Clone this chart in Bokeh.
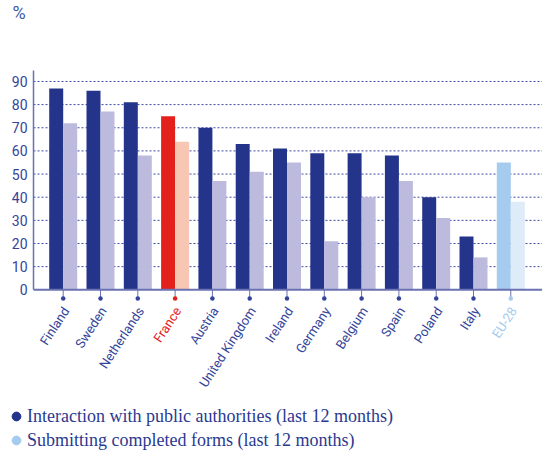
from bokeh.plotting import figure
from bokeh.models import (ColumnDataSource, FixedTicker, LabelSet, Label,
                          Legend, LegendItem, Range1d, LinearAxis)
from bokeh.core.properties import value
from bokeh.embed import file_html
from bokeh.resources import INLINE

# ---- data ----
countries = ["Finland", "Sweden", "Netherlands", "France", "Austria", "United Kingdom",
             "Ireland", "Germany", "Belgium", "Spain", "Poland", "Italy", "EU-28"]
interaction = [87, 86, 81, 75, 70, 63, 61, 59, 59, 58, 40, 23, 55]
forms = [72, 77, 58, 64, 47, 51, 55, 21, 40, 47, 31, 14, 38]
y_ticks = [0, 10, 20, 30, 40, 50, 60, 70, 80, 90]
series_names = ["Interaction with public authorities (last 12 months)",
                "Submitting completed forms (last 12 months)"]

NAVY = "#24348a"
LAV = "#bcbbde"
RED = "#e3201b"
SALMON = "#f8c7b3"
SKY = "#a5cbee"
PALE = "#deebf9"
TXT = "#34449a"
AXIS = "#6a72b2"
GRID = "#3c4ba0"

dark_colors = [RED if c == "France" else SKY if c == "EU-28" else NAVY for c in countries]
light_colors = [SALMON if c == "France" else PALE if c == "EU-28" else LAV for c in countries]
label_colors = [RED if c == "France" else SKY if c == "EU-28" else TXT for c in countries]

idx = list(range(len(countries)))
bw = 0.375
X0, X1 = -1.681, 12.850       # frame range (whole canvas)
Y0, Y1 = -70.71, 124.97
AX_X = -0.796                 # where the value axis stands
AX_TOP = 94.7
TICK_END = -3.8
LABEL_Y = -8.0

src = ColumnDataSource(dict(
    x=idx,
    xd=[i - bw / 2 for i in idx],
    xl=[i + bw / 2 for i in idx],
    inter=interaction, forms=forms,
    dc=dark_colors, lc=light_colors, tc=label_colors,
    name=countries,
))
grid_src = ColumnDataSource(dict(y=y_ticks[1:]))

W, H = 542, 453
p = figure(width=W, height=H, output_backend="svg", toolbar_location=None,
           x_range=Range1d(X0, X1), y_range=Range1d(Y0, Y1),
           min_border=0, x_axis_location=None, y_axis_location=None,
           background_fill_color="white", border_fill_color="white")
p.outline_line_color = None
p.grid.visible = False

# value axis, standing inside the frame
ya = LinearAxis(fixed_location=AX_X, ticker=FixedTicker(ticks=y_ticks), bounds=(0, AX_TOP))
ya.axis_line_color = AXIS
ya.axis_line_width = 1.5
ya.major_tick_line_color = None
ya.minor_tick_line_color = None
ya.major_tick_out = 0
ya.major_tick_in = 0
ya.major_label_text_color = TXT
ya.major_label_text_font = "Roboto"
ya.major_label_text_font_size = "14px"
ya.major_label_standoff = 6
p.add_layout(ya, "left")

# dotted grid from the axis to the right edge
p.segment(x0=AX_X, y0="y", x1=X1, y1="y", line_color=GRID, line_dash="2 2",
          line_width=1, source=grid_src)

p.vbar(x="xd", top="inter", width=bw, fill_color="dc", line_color=None, source=src)
p.vbar(x="xl", top="forms", width=bw, fill_color="lc", line_color=None, source=src)

# category axis line
p.segment(x0=AX_X, y0=0, x1=X1, y1=0, line_color=AXIS, line_width=2)

# tick stems + dots
p.segment(x0="x", y0=0, x1="x", y1=TICK_END, line_color=AXIS, line_width=1, source=src)
p.scatter(x="x", y=TICK_END, marker="circle", size=4.5, fill_color="tc", line_color=None, source=src)

labels = LabelSet(x="x", y=LABEL_Y, text="name", text_color="tc",
                  angle=57, angle_units="deg", text_align="right", text_baseline="middle",
                  text_font=value("Roboto"), text_font_size=value("13px"), x_offset=3, source=src)
p.add_layout(labels)

p.add_layout(Label(x=12, y=441, x_units="screen", y_units="screen", text="%",
                   text_color="#3a5aa8", text_font="Roboto", text_font_size="18px",
                   text_baseline="middle", text_align="left"))

nan = float("nan")
r1 = p.scatter(x=[nan], y=[nan], marker="circle", size=9, color=NAVY)
r2 = p.scatter(x=[nan], y=[nan], marker="circle", size=9, color=SKY)
legend = Legend(items=[LegendItem(label=series_names[0], renderers=[r1]),
                       LegendItem(label=series_names[1], renderers=[r2])],
                location=(5, 2), orientation="vertical",
                label_text_font="Liberation Serif", label_text_font_size="18px",
                label_text_color="#2b3990", glyph_width=22, glyph_height=22,
                label_height=20, label_standoff=0, spacing=2, padding=0, margin=0,
                border_line_color=None, background_fill_alpha=0)
p.add_layout(legend, "center")

open("out.html", "w").write(file_html(p, INLINE))
